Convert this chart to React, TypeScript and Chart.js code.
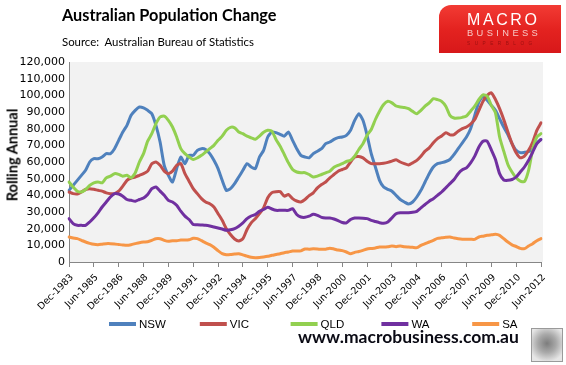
import React, { useEffect, useRef } from 'react';
import { Chart, registerables } from 'chart.js';

Chart.register(...registerables);

// Quarterly categories, Dec-1983 .. Jun-2012 (115 quarters)
const quarterNames = ['Mar', 'Jun', 'Sep', 'Dec'];
const quarterLabels: string[] = [];
for (let i = 0; i < 115; i++) {
  quarterLabels.push(`${quarterNames[(3 + i) % 4]}-${1983 + Math.floor((3 + i) / 4)}`);
}
const labelEvery = 6;

const seriesNames = ['NSW', 'VIC', 'QLD', 'WA', 'SA'];
const seriesColors = ['#4F81BD', '#C0504D', '#92D050', '#7030A0', '#F79646'];

const nsw = [
  43000, 46000, 49000, 52000, 55000, 60000, 62000, 62000, 63000, 65000,
  65000, 68000, 73000, 78000, 82000, 88000, 91000, 93000, 92500, 91000,
  89000, 82000, 72000, 58000, 52000, 48000, 56000, 63000, 59000, 64000,
  64000, 67000, 68000, 67500, 65000, 61000, 56000, 49000, 43000, 44000,
  47000, 51000, 55000, 59000, 57000, 56000, 63000, 67000, 75000, 78000,
  77600, 76600, 75500, 78000, 73000, 68000, 64000, 63000, 62500, 65000,
  66500, 68000, 71000, 72000, 73600, 74600, 75000, 76000, 79000, 85000,
  89000, 85000, 76000, 65000, 57000, 49000, 45000, 43600, 42500, 40000,
  37500, 36000, 34800, 36000, 39000, 43000, 48000, 53000, 57000, 59000,
  59600, 60300, 61500, 64500, 68000, 71500, 75000, 80000, 88000, 96000,
  99500, 97000, 94000, 91000, 86000, 81000, 76500, 71000, 67000, 65600,
  65800, 66200, 68000, 71500, 73500,
];

const vic = [
  42000, 41000, 40800, 42000, 43500, 44000, 43600, 43000, 42500, 41500,
  41000, 41000, 42500, 45500, 49000, 50400, 51000, 52000, 53000, 54500,
  59000, 60000, 58000, 54500, 53000, 54500, 58000, 59000, 53000, 48500,
  44000, 41000, 38000, 36000, 35000, 33000, 29000, 25000, 20000, 16500,
  13800, 12600, 14000, 19500, 23500, 26000, 29000, 32500, 38500, 41600,
  42200, 42200, 39500, 40500, 38000, 36600, 36000, 37500, 39800, 41500,
  44500, 46500, 48000, 50500, 52500, 54500, 55500, 56500, 60000, 63000,
  63300, 62500, 60500, 59000, 59000, 59000, 59300, 59800, 60500, 61400,
  60000, 59000, 58200, 59500, 61000, 63500, 66500, 68500, 71500, 74000,
  75600, 77600, 76300, 76400, 78400, 80000, 81000, 82800, 85500, 91000,
  96500, 100000, 101500, 97500, 92000, 85500, 78000, 71000, 65500, 62500,
  63500, 67000, 72000, 79000, 83500,
];

const qld = [
  48000, 45000, 42500, 42000, 43500, 46000, 47500, 48000, 47500, 50500,
  51500, 53000, 52600, 51500, 52000, 50500, 53500, 60000, 65000, 72500,
  77000, 83000, 87000, 87500, 85000, 81000, 75000, 68000, 65000, 63000,
  61500, 62500, 64000, 66000, 68000, 70000, 73000, 75500, 79000, 80800,
  80500, 78000, 77000, 75500, 74500, 73600, 75500, 77800, 79000, 78500,
  73500, 69500, 64500, 59500, 55500, 54000, 53600, 53600, 52500, 51000,
  51500, 52500, 53500, 54500, 56800, 58000, 59000, 60300, 61000, 63500,
  67500, 71000, 76000, 79500, 85500, 90500, 94500, 96400, 95500, 93600,
  93000, 92700, 92000, 90400, 89000, 91000, 93500, 95500, 98000, 97400,
  96400, 93500, 88000, 86400, 86400, 86800, 87600, 90500, 93500, 97500,
  100300, 99500, 94000, 89500, 75000, 66500, 58500, 54000, 50500, 48500,
  48200, 55000, 67500, 75000, 77000,
];

const wa = [
  26000, 23000, 22000, 22000, 22000, 24000, 26500, 29500, 33000, 36000,
  39000, 41000, 40800, 39500, 37500, 37000, 36500, 37500, 38400, 40500,
  44000, 45000, 42500, 40000, 37000, 36000, 34000, 30500, 27500, 25500,
  22500, 22400, 22200, 22000, 21600, 21000, 20400, 19800, 19000, 19300,
  20000, 21500, 23500, 26000, 27600, 28500, 30500, 31500, 32800, 31800,
  31000, 31000, 31000, 31000, 32000, 28500, 27000, 26800, 27500, 28600,
  28000, 26800, 26400, 26400, 25800, 24800, 23700, 23500, 25500, 26400,
  26400, 26300, 26000, 25000, 24300, 23600, 23200, 24000, 26500, 29000,
  29600, 29600, 29600, 29800, 30400, 32500, 34500, 36500, 38000, 40000,
  42000, 44500, 47000, 49500, 53000, 55300, 56500, 59500, 63500, 69000,
  72500, 72500, 67300, 61500, 53000, 49200, 49000, 49500, 51000, 54000,
  57000, 61000, 66000, 71000, 73500,
];

const sa = [
  15000, 14400, 14000, 13000, 12000, 11200, 10600, 10400, 10700, 11000,
  11000, 10800, 10500, 10200, 10000, 10400, 11000, 11600, 12000, 12200,
  13000, 14000, 14000, 13000, 12400, 12800, 12700, 13200, 13200, 13400,
  14200, 14000, 12800, 11500, 10400, 8800, 6800, 5000, 4400, 4500,
  4800, 5000, 4300, 3500, 2800, 2600, 2700, 3000, 3400, 4000,
  4500, 5000, 5600, 6000, 6600, 6600, 6700, 7800, 7700, 7900,
  7800, 7600, 7700, 8300, 7800, 7200, 6800, 6000, 5000, 5800,
  6300, 7000, 7800, 8100, 8400, 9000, 9000, 9200, 9600, 9200,
  9600, 9200, 9000, 8800, 8600, 10000, 11000, 12000, 13000, 14200,
  14500, 14800, 15000, 14400, 14000, 13700, 13600, 13600, 13600, 15000,
  15500, 16000, 16300, 16600, 16000, 14000, 12000, 10300, 9300, 8200,
  8000, 9600, 11000, 12800, 14000,
];

const seriesValues = [nsw, vic, qld, wa, sa];

const yMin = 0;
const yMax = 120000;
const yStep = 10000;

export default function App() {
  const canvasRef = useRef<HTMLCanvasElement | null>(null);

  useEffect(() => {
    const canvas = canvasRef.current;
    if (!canvas) return;

    const plotBg = {
      id: 'plotBg',
      beforeDraw(chart: any) {
        const { ctx, chartArea: a } = chart;
        ctx.save();
        ctx.fillStyle = '#F2F2F2';
        ctx.fillRect(a.left, a.top, a.right - a.left + 2, a.bottom - a.top);
        ctx.restore();
      },
    };

    // Excel-style legend: evenly spaced entries along one row under the axis
    const excelLegend = {
      id: 'excelLegend',
      afterDraw(chart: any) {
        const { ctx } = chart;
        const rowY = 324;
        const startX = 109;
        const step = 90.8;
        const sample = 27;
        ctx.save();
        ctx.font = '11.5px "Liberation Sans", Arial, sans-serif';
        ctx.textBaseline = 'middle';
        ctx.textAlign = 'left';
        chart.data.datasets.forEach((ds: any, i: number) => {
          const x = startX + i * step;
          ctx.strokeStyle = ds.borderColor;
          ctx.lineWidth = 4;
          ctx.lineCap = 'butt';
          ctx.beginPath();
          ctx.moveTo(x, rowY);
          ctx.lineTo(x + sample, rowY);
          ctx.stroke();
          ctx.fillStyle = '#000';
          ctx.fillText(ds.label, x + sample + 3, rowY + 0.5);
        });
        ctx.restore();
      },
    };

    const chart = new Chart(canvas, {
      type: 'line',
      data: {
        labels: quarterLabels,
        datasets: seriesNames.map((name, i) => ({
          label: name,
          data: seriesValues[i],
          borderColor: seriesColors[i],
          backgroundColor: seriesColors[i],
          borderWidth: 3,
          pointRadius: 0,
          tension: 0.2,
          borderCapStyle: 'round' as const,
          borderJoinStyle: 'round' as const,
          fill: false,
          order: seriesNames.length - i,
        })),
      },
      options: {
        animation: false,
        responsive: false,
        maintainAspectRatio: false,
        layout: { padding: { left: 0, right: 25, top: 62, bottom: 41 } },
        plugins: {
          tooltip: { enabled: false },
          title: { display: false },
          legend: { display: false },
        },
        scales: {
          x: {
            type: 'category',
            offset: false,
            grid: {
              display: true,
              drawOnChartArea: false,
              drawTicks: true,
              tickLength: 5,
              offset: false,
              color: (c: any) => (c.index % labelEvery === 0 ? '#868686' : 'rgba(0,0,0,0)'),
              lineWidth: (c: any) => (c.index % labelEvery === 0 ? 1 : 0),
            },
            border: { display: true, color: '#868686', width: 1 },
            ticks: {
              autoSkip: false,
              maxRotation: 45,
              minRotation: 45,
              padding: 5,
              labelOffset: 3,
              color: '#000',
              font: { family: '"DejaVu Sans", sans-serif', size: 9.5 },
              callback: (_v: any, i: number) => (i % labelEvery === 0 ? quarterLabels[i] : ''),
            },
            afterFit: (s: any) => {
              s.height = 62;
            },
          },
          y: {
            type: 'linear',
            position: 'left',
            min: yMin,
            max: yMax,
            grid: { display: false, drawTicks: false },
            border: { display: true, color: '#868686', width: 1 },
            ticks: {
              stepSize: yStep,
              padding: 4,
              color: '#000',
              font: { family: '"DejaVu Sans", sans-serif', size: 11 },
              callback: (v: any) => Number(v).toLocaleString('en-US'),
            },
            afterFit: (s: any) => {
              s.width = 69;
            },
          },
        },
      },
      plugins: [plotBg, excelLegend],
    } as any);

    return () => {
      chart.destroy();
    };
  }, []);

  return (
    <div
      style={{
        position: 'absolute',
        left: 0,
        top: 0,
        width: 566,
        height: 365,
        background: '#fff',
        overflow: 'hidden',
      }}
    >
      <canvas
        ref={canvasRef}
        width={566}
        height={365}
        style={{ position: 'absolute', left: 0, top: 0, width: 566, height: 365 }}
      />
      <div
        style={{
          position: 'absolute',
          left: 62,
          top: 5,
          font: 'bold 16.3px Lato, sans-serif',
          color: '#000',
          whiteSpace: 'nowrap',
        }}
      >
        Australian Population Change
      </div>
      <div
        style={{
          position: 'absolute',
          left: 62,
          top: 35,
          font: '11.4px Lato, sans-serif',
          color: '#000',
          whiteSpace: 'pre',
        }}
      >
        {'Source:  Australian Bureau of Statistics'}
      </div>
      <div
        style={{
          position: 'absolute',
          left: 12,
          top: 155,
          transform: 'translate(-50%, -50%) rotate(-90deg)',
          font: 'bold 14.5px Lato, sans-serif',
          color: '#000',
          whiteSpace: 'nowrap',
        }}
      >
        Rolling Annual
      </div>
      <div
        style={{
          position: 'absolute',
          left: 439,
          top: 5,
          width: 122,
          height: 48,
          borderTopLeftRadius: 12,
          background: 'linear-gradient(180deg, #f23b34 0%, #e42320 50%, #d8181a 100%)',
        }}
      />
      <div
        style={{
          position: 'absolute',
          left: 467,
          top: 11.5,
          font: '16px "Liberation Sans", Arial, sans-serif',
          lineHeight: 1,
          letterSpacing: 2.6,
          color: '#ffffff',
          whiteSpace: 'nowrap',
        }}
      >
        MACRO
      </div>
      <div
        style={{
          position: 'absolute',
          left: 467,
          top: 29.4,
          font: '9.3px "Liberation Sans", Arial, sans-serif',
          lineHeight: 1,
          letterSpacing: 3.4,
          color: '#f7c9c6',
          whiteSpace: 'nowrap',
        }}
      >
        BUSINESS
      </div>
      <div
        style={{
          position: 'absolute',
          left: 467,
          top: 41.7,
          font: '4.7px "Liberation Sans", Arial, sans-serif',
          lineHeight: 1,
          letterSpacing: 4.5,
          color: '#9c1010',
          whiteSpace: 'nowrap',
        }}
      >
        SUPERBLOG
      </div>
      <div
        style={{
          position: 'absolute',
          left: 298,
          top: 325.5,
          font: 'bold 17.5px Lato, sans-serif',
          color: '#0a0a14',
          whiteSpace: 'nowrap',
        }}
      >
        www.macrobusiness.com.au
      </div>
      <div
        style={{
          position: 'absolute',
          left: 531,
          top: 328,
          width: 30,
          height: 32,
          border: '1px solid #9a9a9a',
          background: 'radial-gradient(circle at 50% 45%, #7d7d7d 0%, #a9a9a9 40%, #e6e6e6 80%)',
        }}
      />
    </div>
  );
}
